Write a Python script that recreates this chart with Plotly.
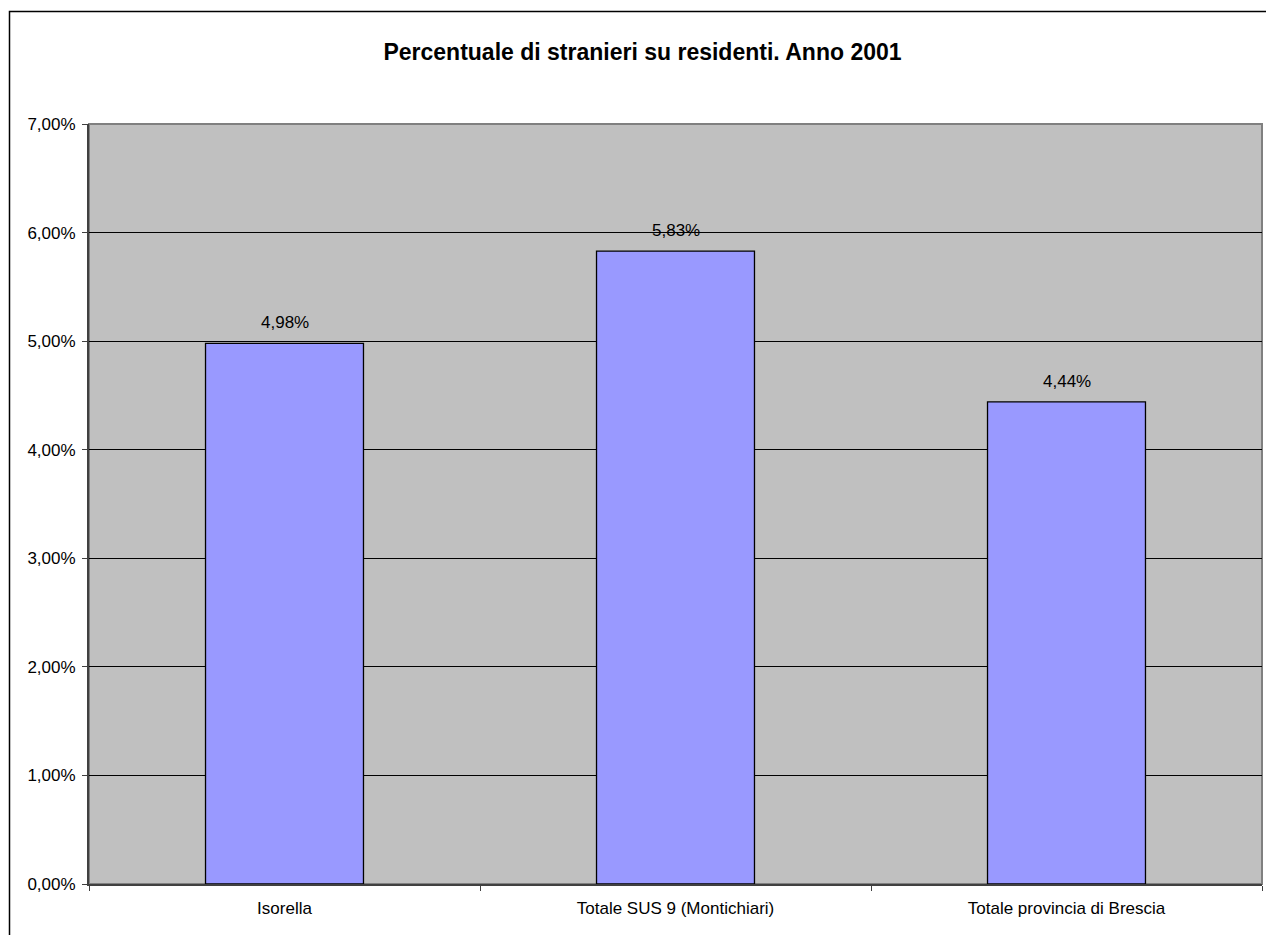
import plotly.graph_objects as go

categories = ["Isorella", "Totale SUS 9 (Montichiari)", "Totale provincia di Brescia"]
values = [0.0498, 0.0583, 0.0444]
title_text = "Percentuale di stranieri su residenti. Anno 2001"

W, H = 1266, 935
L, R, T, B = 89, 4, 124, 51
pw, ph = W - L - R, H - T - B
FONT = "Liberation Sans, Arial, sans-serif"

fig = go.Figure()
fig.add_trace(go.Bar(
    x=categories, y=values,
    marker=dict(color="#9999FF", line=dict(color="black", width=1.3)),
    width=0.404,
    hoverinfo="skip",
))

for c, v in zip(categories, values):
    fig.add_annotation(
        x=c, y=v, xref="x", yref="y",
        text=f"{v*100:.2f}%".replace(".", ","),
        showarrow=False, yanchor="bottom", yshift=9,
        font=dict(family=FONT, size=17, color="black"),
    )

def px_x(p):
    return (p - L) / pw

def px_y(p):
    return (H - B - p) / ph

# plot area border (gray)
fig.add_shape(type="rect", xref="paper", yref="paper",
              x0=0, x1=1, y0=0, y1=1,
              line=dict(color="#808080", width=2), layer="below")
# outer chart frame
fig.add_shape(type="rect", xref="paper", yref="paper",
              x0=px_x(9.5), x1=px_x(1300), y0=px_y(960), y1=px_y(11.5),
              line=dict(color="black", width=1.5))

fig.update_layout(
    width=W, height=H,
    margin=dict(l=L, r=R, t=T, b=B),
    paper_bgcolor="white",
    plot_bgcolor="#C0C0C0",
    separators=",.",
    showlegend=False,
    title=dict(text="<b>" + title_text + "</b>", x=642.5 / W, xanchor="center",
               y=1 - 52 / H, yanchor="middle",
               font=dict(family=FONT, size=23, color="black")),
    font=dict(family=FONT, size=17, color="black"),
)
fig.update_yaxes(
    range=[0, 0.07], dtick=0.01, tickformat=".2%",
    showgrid=True, gridcolor="black", gridwidth=1,
    showline=True, linecolor="#404040", linewidth=2,
    ticks="outside", ticklen=5, tickcolor="#404040", tickwidth=1,
    ticklabelstandoff=3,
    zeroline=False, tickfont=dict(family=FONT, size=17),
)
fig.update_xaxes(
    showgrid=False, showline=True, linecolor="#404040", linewidth=2,
    ticks="outside", tickson="boundaries", ticklen=5, tickcolor="#404040",
    ticklabelstandoff=8,
    tickfont=dict(family=FONT, size=17),
)

fig.write_html(
    "out.html",
    config={"displayModeBar": False},
    post_script="document.body.style.margin='0';document.body.style.overflow='hidden';",
)
